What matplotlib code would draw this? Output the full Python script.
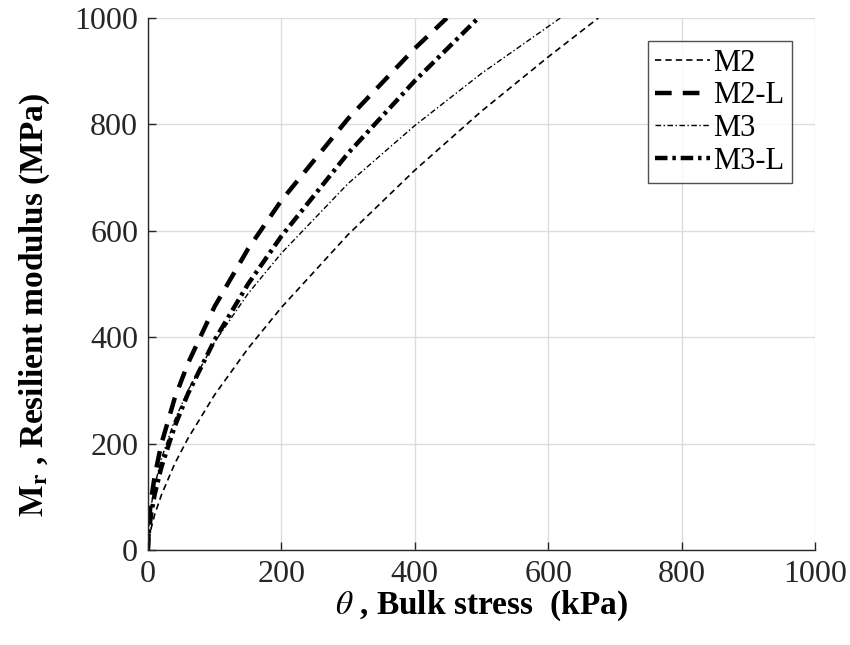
import matplotlib
matplotlib.use("Agg")
import matplotlib.pyplot as plt

# values
theta_m2 = [0, 1, 2, 5, 10, 20, 40, 60, 100, 150, 200, 300, 400, 500, 600, 675]
mr_m2 = [0, 15, 23, 42, 66, 103, 162, 210, 292, 379, 456, 593, 714, 825, 927, 1000]

theta_m2l = [0, 1, 2, 5, 10, 20, 40, 60, 100, 150, 200, 300, 400, 448]
mr_m2l = [0, 42, 60, 97, 138, 199, 285, 351, 458, 566, 657, 811, 943, 1000]

theta_m3 = [0, 1, 2, 5, 10, 20, 40, 60, 100, 150, 200, 300, 400, 500, 618]
mr_m3 = [0, 36, 52, 84, 120, 171, 244, 300, 391, 482, 558, 689, 798, 896, 1000]

theta_m3l = [0, 1, 2, 5, 10, 20, 40, 60, 100, 150, 200, 300, 400, 495]
mr_m3l = [0, 27, 41, 69, 104, 155, 232, 294, 395, 500, 590, 746, 882, 1000]

x_ticks = [0, 200, 400, 600, 800, 1000]
y_ticks = [0, 200, 400, 600, 800, 1000]

plt.rcParams['font.family'] = ['Liberation Serif', 'DejaVu Serif']
plt.rcParams['mathtext.fontset'] = 'stix'
plt.rcParams['lines.scale_dashes'] = False

fig = plt.figure(figsize=(8.5, 6.45), dpi=100)
ax = fig.add_axes([0.174, 0.147, 0.785, 0.825])

ax.plot(theta_m2, mr_m2, color='black', lw=1.2, dashes=(4.5, 3), label='M2')
ax.plot(theta_m2l, mr_m2l, color='black', lw=3.2, dashes=(12, 8), label='M2-L')
ax.plot(theta_m3, mr_m3, color='black', lw=1.0, dashes=(4, 1.8, 1, 1.8), label='M3')
ax.plot(theta_m3l, mr_m3l, color='black', lw=3.2, dashes=(9, 3.5, 2.5, 3.5), label='M3-L')

ax.set_xlim(0, 1000)
ax.set_ylim(0, 1000)
ax.set_xticks(x_ticks)
ax.set_yticks(y_ticks)
ax.tick_params(direction='in', length=6, width=1, labelsize=23, colors='#262626',
               labelcolor='#262626', pad=7)
ax.grid(True, color='#dcdcdc', lw=1)
ax.set_axisbelow(True)
for s in ['top', 'right']:
    ax.spines[s].set_visible(False)
for s in ['left', 'bottom']:
    ax.spines[s].set_color('#262626')
    ax.spines[s].set_linewidth(1)

ax.set_xlabel(r'$\theta$ , Bulk stress  (kPa)', fontsize=24, fontweight='bold', labelpad=0)
ax.set_ylabel(r'$\mathbf{M_r}$ , Resilient modulus (MPa)', fontsize=24, fontweight='bold')
ax.yaxis.set_label_coords(-0.144, 0.46)

leg = ax.legend(loc='upper right', fontsize=22, frameon=True, fancybox=False,
                edgecolor='#262626', handlelength=1.8, handletextpad=0.1,
                labelspacing=0.12, borderpad=0.25, borderaxespad=0.75)
leg.get_frame().set_linewidth(1)

fig.savefig('out.png', dpi=100, facecolor='white')
